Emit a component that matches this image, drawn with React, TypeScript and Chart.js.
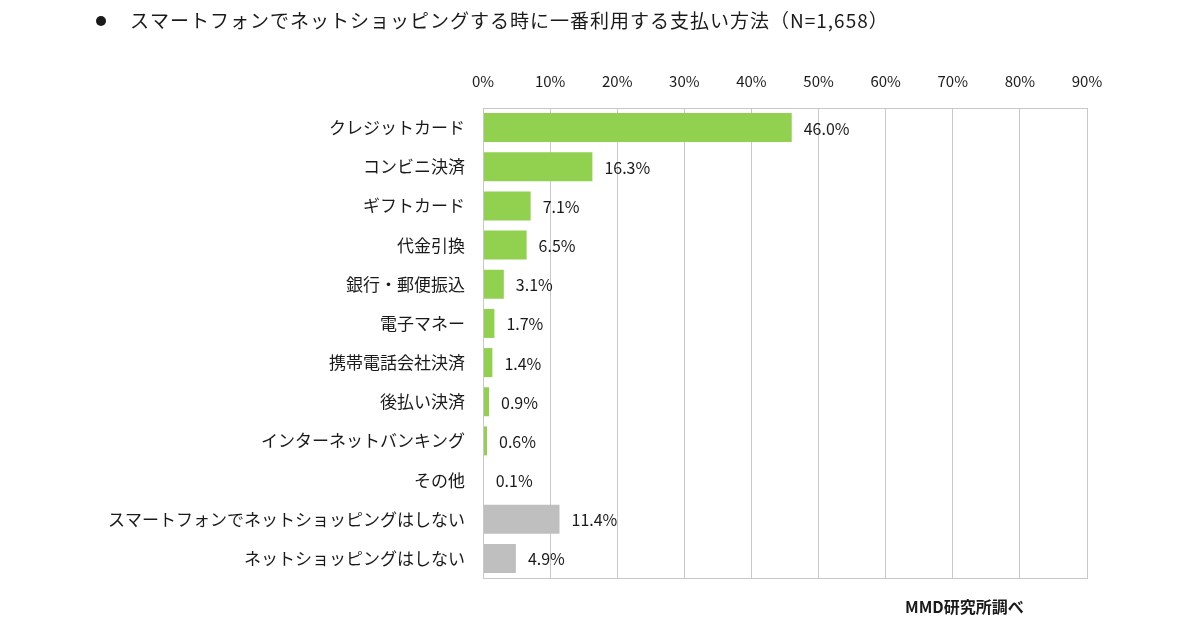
import React, { useEffect, useRef } from "react";
import { Chart, registerables } from "chart.js";

Chart.register(...registerables);

const categories = [
  "クレジットカード",
  "コンビニ決済",
  "ギフトカード",
  "代金引換",
  "銀行・郵便振込",
  "電子マネー",
  "携帯電話会社決済",
  "後払い決済",
  "インターネットバンキング",
  "その他",
  "スマートフォンでネットショッピングはしない",
  "ネットショッピングはしない",
];
const values = [46.0, 16.3, 7.1, 6.5, 3.1, 1.7, 1.4, 0.9, 0.6, 0.1, 11.4, 4.9];
const barColors = [
  "#92D050", "#92D050", "#92D050", "#92D050", "#92D050", "#92D050",
  "#92D050", "#92D050", "#92D050", "#92D050", "#BFBFBF", "#BFBFBF",
];
const titleText = "スマートフォンでネットショッピングする時に一番利用する支払い方法（N=1,658）";
const sourceText = "MMD研究所調べ";
const xMax = 90;
const xStep = 10;

const FONT = "'Noto Sans CJK JP', 'Noto Sans', sans-serif";

export default function App() {
  const ref = useRef<HTMLCanvasElement | null>(null);
  useEffect(() => {
    if (!ref.current) return;
    const extras = {
      id: "extras",
      afterDraw(chart: any) {
        const ctx = chart.ctx;
        const a = chart.chartArea;
        ctx.save();
        // plot border
        ctx.strokeStyle = "#c8c8c8";
        ctx.lineWidth = 1;
        ctx.strokeRect(Math.round(a.left) + 0.5, Math.round(a.top) + 0.5, Math.round(a.right - a.left), Math.round(a.bottom - a.top));
        // data labels
        const meta = chart.getDatasetMeta(0);
        ctx.fillStyle = "#1a1a1a";
        ctx.font = `16px ${FONT}`;
        ctx.textAlign = "left";
        ctx.textBaseline = "middle";
        meta.data.forEach((bar: any, i: number) => {
          ctx.fillText(values[i].toFixed(1) + "%", bar.x + 12, bar.y + 1);
        });
        // title
        ctx.font = `19px ${FONT}`;
        ctx.fillStyle = "#1a1a1a";
        ctx.beginPath();
        ctx.arc(101, 21, 5, 0, Math.PI * 2);
        ctx.fill();
        (ctx as any).letterSpacing = "1px";
        ctx.fillText(titleText, 130, 21);
        (ctx as any).letterSpacing = "0px";
        // source
        ctx.font = `bold 16px ${FONT}`;
        ctx.fillText(sourceText, 905, 607);
        ctx.restore();
      },
    };
    const chart = new Chart(ref.current, {
      type: "bar",
      data: {
        labels: categories,
        datasets: [
          {
            data: values,
            backgroundColor: barColors,
            borderWidth: 0,
            barPercentage: 0.74,
            categoryPercentage: 1,
          },
        ],
      },
      options: {
        indexAxis: "y",
        animation: false,
        responsive: false,
        layout: { padding: { top: 60, right: 113, bottom: 52, left: 0 } },
        plugins: { legend: { display: false }, tooltip: { enabled: false }, title: { display: false } },
        scales: {
          x: {
            position: "top",
            min: 0,
            max: xMax,
            ticks: {
              stepSize: xStep,
              callback: (v: any) => v + "%",
              color: "#1a1a1a",
              font: { family: FONT, size: 15 },
              padding: 18,
            },
            grid: { color: "#c8c8c8", drawTicks: false },
            border: { display: false },
            afterFit: (s: any) => { s.height = 48; },
          },
          y: {
            ticks: {
              color: "#1a1a1a",
              font: { family: FONT, size: 17 },
              padding: 18,
              autoSkip: false,
            },
            grid: { display: false, drawTicks: false },
            border: { display: false },
            afterFit: (s: any) => { s.width = 483; },
          },
        },
      },
      plugins: [extras],
    });
    return () => chart.destroy();
  }, []);
  return (
    <div style={{ position: "fixed", left: 0, top: 0, width: 1200, height: 630, background: "#fff" }}>
      <canvas ref={ref} width={1200} height={630} style={{ width: 1200, height: 630 }} />
    </div>
  );
}
